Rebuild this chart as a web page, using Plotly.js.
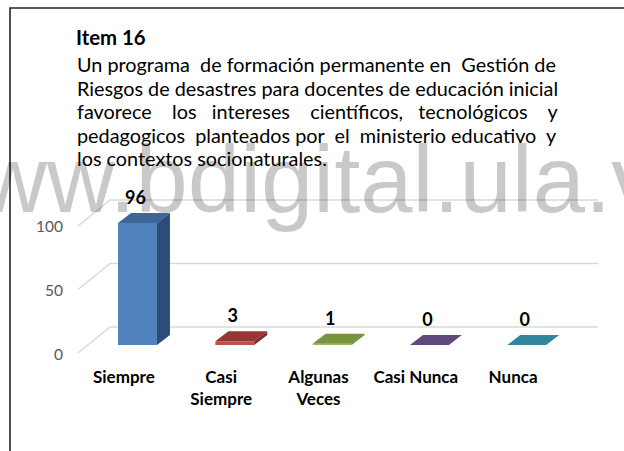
<!DOCTYPE html>
<html><head><meta charset="utf-8">
<script src="https://cdn.plot.ly/plotly-3.0.1.min.js"></script>
<style>html,body{margin:0;padding:0;background:#fff;}#chart{width:624px;height:451px;}</style>
</head><body><div id="chart"></div>
<script>
// ---------- data ----------
const categories = ['Siempre', 'Casi Siempre', 'Algunas Veces', 'Casi Nunca', 'Nunca'];
const categoryLabels = ['Siempre', 'Casi<br>Siempre', 'Algunas<br>Veces', 'Casi Nunca', 'Nunca'];
const values = [96, 3, 1, 0, 0];
const gridValues = [0, 50, 100];
const tickLabels = ['0', '50', '100'];
const titleText = 'Item 16';
const bodyLines = [
  'Un programa de formación permanente en Gestión de',
  'Riesgos de desastres para docentes de educación inicial',
  'favorece los intereses científicos, tecnológicos y',
  'pedagogicos planteados por el ministerio educativo y',
  'los contextos socionaturales.'
];
const watermarkText = 'www.bdigital.ula.ve';

// ---------- styles ----------
const frontColors = ['#4F81BD', '#C0504D', '#9BBB59', '#8064A2', '#4BACC6'];
const topColors   = ['#3D6597', '#953735', '#77933C', '#604A7B', '#31859C'];
const sideColors  = ['#2E4C78', '#772C2A', '#5F752F', '#4C3A62', '#276A7C'];
const FONT = 'Lato, "Open Sans", sans-serif';

// ---------- geometry ----------
const W = 624, H = 451;
const M = {l: 66, r: 14, t: 180, b: 91};
const PW = W - M.l - M.r, PH = H - M.t - M.b;
const catPx = 97.3, x0Px = 137.5;      // pixel of first category, pixels per category
const unitPx = 1.27, y0Px = 345;       // pixel of value 0 in bar plane, pixels per unit
const xRange = [(M.l - x0Px) / catPx, (W - M.r - x0Px) / catPx];
const yRange = [(y0Px - (H - M.b)) / unitPx, (y0Px - M.t) / unitPx];
const halfW = 0.2;
const depthX = 13 / catPx, depthY = 10 / unitPx;
const wallFrontX = (78 - x0Px) / catPx, wallBackX = (110 - x0Px) / catPx, wallEndX = (598 - x0Px) / catPx;
const wallFrontDY = -6.3, wallBackDY = 14.2;
const px2paperX = px => (px - M.l) / PW;
const px2paperY = py => (H - M.b - py) / PH;

// ---------- text measuring for justified paragraph ----------
const ctx = document.createElement('canvas').getContext('2d');
function textW(t, size, weight) { ctx.font = (weight || 'normal') + ' ' + size + 'px Lato'; return ctx.measureText(t).width; }
const textLeft = 76, textRight = 557, lastLineW = 250;
let bodySize = 100 * lastLineW / textW(bodyLines[bodyLines.length - 1], 100);
if (!isFinite(bodySize) || bodySize < 12 || bodySize > 22) bodySize = 16.8;
function justify(line) {
  const words = line.split(' ');
  const gaps = words.length - 1;
  const spaceW = textW('\u00A0', bodySize) || bodySize * 0.2;
  const extra = (textRight - textLeft) - textW(line, bodySize);
  const n = Math.max(0, Math.round(extra / spaceW));
  let out = words[0];
  for (let g = 0; g < gaps; g++) {
    const k = 1 + Math.round((g + 1) * n / gaps) - Math.round(g * n / gaps);
    out += '\u00A0'.repeat(k) + words[g + 1];
  }
  return out;
}
const baselines = [72, 95.5, 119, 142.5, 166];

// ---------- traces ----------
const xIdx = categories.map((c, i) => i);
const traces = [];
traces.push({
  type: 'bar', x: xIdx, y: values, width: halfW * 2,
  marker: {color: frontColors, line: {width: 0}},
  hoverinfo: 'skip'
});
values.forEach((v, i) => {
  traces.push({
    type: 'scatter', mode: 'lines', fill: 'toself', hoverinfo: 'skip',
    x: [i - halfW, i + halfW, i + halfW + depthX, i - halfW + depthX, i - halfW],
    y: [v, v, v + depthY, v + depthY, v],
    line: {width: 0, color: topColors[i]}, fillcolor: topColors[i]
  });
  if (v > 0) {
    traces.push({
      type: 'scatter', mode: 'lines', fill: 'toself', hoverinfo: 'skip',
      x: [i + halfW, i + halfW + depthX, i + halfW + depthX, i + halfW, i + halfW],
      y: [0, depthY, v + depthY, v, 0],
      line: {width: 0, color: sideColors[i]}, fillcolor: sideColors[i]
    });
  }
});
traces.push({
  type: 'scatter', mode: 'text', x: xIdx.map(i => i - 0.02), y: values.map(v => v + 18.5),
  text: values.map(String), textposition: 'middle center', cliponaxis: false,
  textfont: {family: FONT, size: 18, color: '#000000', weight: 'bold'}, hoverinfo: 'skip'
});

// ---------- shapes ----------
const shapes = gridValues.map(g => ({
  type: 'path', xref: 'x', yref: 'y', layer: 'below',
  path: 'M' + wallFrontX + ',' + (g + wallFrontDY) + ' L' + wallBackX + ',' + (g + wallBackDY) + ' L' + wallEndX + ',' + (g + wallBackDY),
  line: {color: '#D9D9D9', width: 1.5}
}));
shapes.push({
  type: 'path', xref: 'paper', yref: 'paper', layer: 'above',
  path: 'M' + px2paperX(10) + ',' + px2paperY(470) + ' L' + px2paperX(10) + ',' + px2paperY(8) + ' L' + px2paperX(640) + ',' + px2paperY(8),
  line: {color: '#262626', width: 1.6}
});

// ---------- annotations ----------
const annotations = [{
  text: watermarkText, xref: 'paper', yref: 'paper',
  x: px2paperX(310), y: px2paperY(179.5), xanchor: 'center', yanchor: 'middle',
  showarrow: false, borderpad: 0,
  font: {family: '"Liberation Sans", Arial, sans-serif', size: 94, color: 'rgba(0,0,0,0.21)'}
}];
bodyLines.forEach((line, k) => {
  const isLast = k === bodyLines.length - 1;
  annotations.push({
    text: isLast ? line : justify(line), xref: 'paper', yref: 'paper',
    x: px2paperX(textLeft), y: px2paperY(baselines[k] - 0.387 * bodySize),
    xanchor: 'left', yanchor: 'middle', align: 'left', showarrow: false, borderpad: 0,
    font: {family: FONT, size: bodySize, color: '#000000'}
  });
});

const layout = {
  width: W, height: H, margin: M,
  paper_bgcolor: '#ffffff', plot_bgcolor: 'rgba(0,0,0,0)',
  showlegend: false,
  title: {
    text: titleText, xref: 'container', yref: 'container',
    x: textLeft / W, xanchor: 'left', y: 1 - (46 - 0.387 * bodySize) / H, yanchor: 'middle',
    font: {family: FONT, size: bodySize + 0.5, color: '#000000', weight: 'bold'}
  },
  xaxis: {
    range: xRange, tickvals: xIdx.map(i => i - 0.14), ticktext: categoryLabels,
    showgrid: false, zeroline: false, showline: false, ticks: '',
    ticklabelstandoff: 5,
    tickfont: {family: FONT, size: 17, color: '#000000', weight: 'bold'},
    fixedrange: true
  },
  yaxis: {
    range: yRange, tickvals: gridValues.map(g => g * 1.008 + wallFrontDY - 1.5), ticktext: tickLabels,
    showgrid: false, zeroline: false, showline: false, ticks: '',
    ticklabelstandoff: 2,
    tickfont: {family: FONT, size: 15.5, color: '#595959'},
    fixedrange: true
  },
  shapes: shapes,
  annotations: annotations
};

Plotly.newPlot('chart', traces, layout, {displayModeBar: false, staticPlot: true});
</script>
</body></html>
